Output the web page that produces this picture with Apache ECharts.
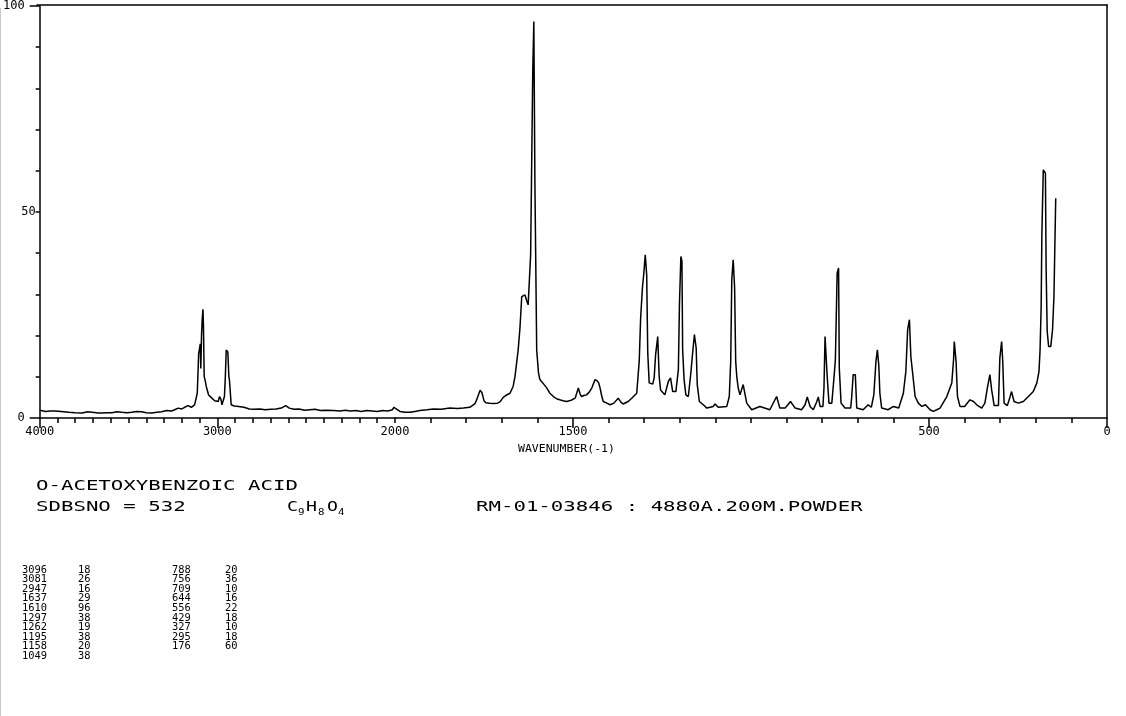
<!DOCTYPE html>
<html>
<head>
<meta charset="utf-8">
<title>O-ACETOXYBENZOIC ACID - Raman</title>
<script src="https://cdn.jsdelivr.net/npm/echarts@6/dist/echarts.min.js"></script>
<style>
html, body { margin: 0; padding: 0; background: #fff; }
#chart { width: 1126px; height: 716px; }
</style>
</head>
<body>
<div id="chart"></div>
<script>
// spectrum (wavenumber, relative intensity)
const wavenumber = [
  4000, 3966, 3940, 3911, 3880, 3836, 3800, 3761, 3730, 3705, 3670, 3649, 3620, 3593, 3565, 3538,
  3510, 3482, 3455, 3426, 3400, 3370, 3340, 3314, 3285, 3258, 3240, 3220, 3200, 3184, 3165, 3146,
  3128, 3113, 3105, 3098, 3096, 3093, 3089, 3085, 3081, 3078, 3074, 3068, 3062, 3049, 3035, 3025,
  3015, 3006, 2995, 2988, 2980, 2974, 2966, 2960, 2955, 2950, 2947, 2941, 2935, 2932, 2922, 2905,
  2880, 2850, 2820, 2792, 2760, 2730, 2700, 2670, 2640, 2615, 2595, 2568, 2540, 2510, 2480, 2450,
  2420, 2390, 2345, 2310, 2280, 2250, 2220, 2190, 2160, 2130, 2100, 2070, 2040, 2015, 2005, 2000,
  1986, 1972, 1958, 1944, 1930, 1910, 1892, 1870, 1846, 1825, 1808, 1790, 1785, 1775, 1768, 1761,
  1756, 1750, 1745, 1735, 1724, 1712, 1705, 1696, 1688, 1677, 1668, 1663, 1654, 1649, 1644, 1640,
  1635, 1630, 1626, 1621, 1619, 1613, 1610, 1607, 1602, 1597, 1593, 1585, 1574, 1565, 1555, 1545,
  1537, 1528, 1518, 1505, 1494, 1485, 1480, 1476, 1468, 1462, 1455, 1447, 1438, 1432, 1428, 1424,
  1419, 1415, 1405, 1396, 1385, 1373, 1365, 1359, 1345, 1335, 1321, 1314, 1310, 1305, 1301, 1297,
  1293, 1290, 1286, 1276, 1272, 1268, 1262, 1258, 1254, 1242, 1232, 1226, 1220, 1211, 1204, 1201,
  1197, 1194, 1192, 1188, 1183, 1176, 1169, 1164, 1159, 1154, 1151, 1145, 1134, 1124, 1106, 1101,
  1092, 1068, 1061, 1057, 1054, 1050, 1046, 1043, 1040, 1036, 1031, 1022, 1017, 1012, 998, 975,
  947, 928, 919, 904, 889, 876, 858, 848, 842, 834, 825, 815, 811, 806, 798, 795,
  792, 789, 786, 781, 773, 767, 763, 758, 754, 752, 747, 736, 720, 717, 713, 707,
  703, 685, 671, 662, 655, 649, 645, 641, 638, 633, 615, 600, 585, 572, 565, 560,
  555, 551, 546, 539, 530, 520, 510, 497, 488, 478, 469, 464, 450, 436, 431, 429,
  424, 420, 413, 400, 385, 375, 366, 352, 343, 336, 329, 324, 317, 305, 301, 296,
  293, 289, 280, 272, 268, 261, 249, 235, 221, 207, 197, 191, 188, 185, 183, 179,
  173, 171, 168, 164, 158, 153, 149, 146, 144
];
const intensity = [
  1.9, 1.6, 1.7, 1.7, 1.6, 1.4, 1.3, 1.2, 1.5, 1.4, 1.2, 1.2, 1.3, 1.3, 1.5, 1.4,
  1.3, 1.4, 1.6, 1.5, 1.3, 1.2, 1.4, 1.5, 1.8, 1.7, 2.0, 2.4, 2.2, 2.6, 3.0, 2.6,
  3.2, 6.0, 15.6, 15.7, 18.0, 12.0, 20.0, 24.0, 26.4, 22.0, 10.1, 9.0, 7.6, 5.6, 5.0, 4.8,
  4.2, 4.4, 4.0, 5.2, 4.6, 3.2, 3.6, 5.2, 10.0, 16.5, 16.9, 16.0, 10.0, 9.3, 3.2, 2.9,
  2.8, 2.6, 2.2, 2.1, 2.2, 2.0, 2.1, 2.2, 2.4, 3.0, 2.4, 2.1, 2.2, 1.9, 2.0, 2.1,
  1.8, 1.9, 1.8, 1.7, 1.9, 1.7, 1.8, 1.6, 1.8, 1.7, 1.6, 1.8, 1.7, 2.0, 2.6, 2.4,
  1.6, 1.4, 1.4, 1.6, 1.8, 2.0, 2.2, 2.1, 2.4, 2.3, 2.4, 2.6, 2.8, 3.5, 5.0, 6.7,
  6.2, 4.2, 3.7, 3.6, 3.5, 3.6, 3.9, 5.0, 5.5, 6.0, 7.7, 10.0, 16.5, 21.8, 29.4, 29.8,
  29.8, 28.4, 27.4, 27.2, 39.5, 84.3, 96.0, 56.9, 16.5, 11.0, 9.3, 8.5, 7.3, 6.0, 5.2, 4.6,
  4.4, 4.2, 4.0, 4.3, 4.8, 7.3, 5.8, 5.2, 5.5, 5.6, 6.2, 7.3, 9.3, 9.0, 8.5, 7.3,
  5.2, 4.0, 3.6, 3.2, 3.6, 4.8, 3.8, 3.4, 4.0, 4.8, 6.0, 13.7, 24.2, 31.5, 35.1, 39.5,
  34.6, 15.7, 8.5, 8.2, 9.7, 15.3, 19.7, 10.1, 6.8, 5.6, 8.9, 9.7, 6.4, 6.4, 11.7, 27.4,
  39.1, 38.0, 16.5, 9.3, 5.6, 5.2, 10.9, 15.7, 20.2, 16.9, 8.1, 4.0, 3.2, 2.4, 2.8, 3.4,
  2.6, 2.8, 5.2, 13.7, 33.5, 38.3, 31.5, 13.7, 10.1, 7.3, 5.6, 8.1, 8.5, 3.6, 2.0, 2.8,
  2.0, 5.2, 2.4, 2.4, 4.0, 2.4, 2.0, 3.2, 5.1, 2.8, 2.0, 4.0, 5.1, 2.8, 2.8, 7.3,
  19.7, 20.1, 10.1, 3.6, 3.6, 9.7, 14.1, 35.1, 36.3, 12.1, 3.6, 2.4, 2.4, 5.2, 10.5, 10.5,
  2.4, 2.0, 3.2, 2.6, 5.6, 13.7, 16.5, 12.7, 6.0, 2.4, 2.0, 2.8, 2.4, 6.0, 11.3, 21.4,
  23.8, 14.9, 10.9, 5.2, 3.6, 2.8, 3.2, 2.0, 1.6, 2.0, 2.4, 2.8, 5.2, 8.5, 14.1, 18.5,
  13.7, 5.2, 2.8, 2.8, 4.4, 4.0, 3.2, 2.4, 3.6, 7.3, 10.5, 6.8, 3.0, 3.0, 14.5, 18.5,
  14.0, 3.6, 3.0, 5.2, 6.4, 4.0, 3.6, 4.0, 5.2, 6.4, 8.5, 11.3, 16.5, 26.6, 44.3, 60.1,
  59.3, 36.3, 21.0, 17.3, 17.3, 21.4, 29.4, 43.9, 53.2
];

// axis labels
const highTickLabels = [4000, 3000];
const lowTickLabels = [2000, 1500, 500, 0];
const yEndLabels = [0, 100];
const yMidLabels = [50];

// peak list printed under the chart
const peakWn1 = ['3096', '3081', '2947', '1637', '1610', '1297', '1262', '1195', '1158', '1049'];
const peakInt1 = ['18', '26', '16', '29', '96', '38', '19', '38', '20', '38'];
const peakWn2 = ['788', '756', '709', '644', '556', '429', '327', '295', '176'];
const peakInt2 = ['20', '36', '10', '16', '22', '18', '10', '18', '60'];

const FONT = '"DejaVu Sans Mono", "Liberation Mono", monospace';
const AXIS = { color: '#000', width: 1.5 };

// the 4000-2000 part is plotted at half the scale of the 2000-0 part
const highData = [];
const lowData = [];
wavenumber.forEach((w, i) => {
  if (w >= 2000) highData.push([w, intensity[i]]);
  if (w <= 2000) lowData.push([w, intensity[i]]);
});

// minor tick positions, every 100 cm-1 / every 10 %
const highMinor = [];
for (let w = 2000; w <= 4000; w += 100) highMinor.push(w);
const lowMinor = [];
for (let w = 0; w <= 2000; w += 100) lowMinor.push(w);
const yMinor = [];
for (let v = 0; v <= 100; v += 10) yMinor.push(v);

const chart = echarts.init(document.getElementById('chart'));

// monospace text, stretched sideways like the plotter lettering
const txt = (text, x, y, size, sx) => ({
  type: 'text',
  x: x,
  y: y,
  scaleX: sx,
  style: {
    text: text,
    font: size + 'px ' + FONT,
    fill: '#000',
    textAlign: 'left',
    textVerticalAlign: 'middle'
  }
});

const graphics = [
  { type: 'line', shape: { x1: 0.5, y1: 8, x2: 0.5, y2: 716 }, style: { stroke: '#c8c8c8', lineWidth: 1 } },
  txt('WAVENUMBER(-1)', 518, 449, 10, 1.15),
  txt('O-ACETOXYBENZOIC ACID', 36, 486, 14, 1.48),
  txt('SDBSNO = 532', 36, 507, 14, 1.48),
  txt('C', 287, 507, 14, 1.3),
  txt('9', 298, 513, 9, 1.2),
  txt('H', 306, 507, 14, 1.3),
  txt('8', 318, 513, 9, 1.2),
  txt('O', 327, 507, 14, 1.3),
  txt('4', 338, 513, 9, 1.2),
  txt('RM-01-03846 : 4880A.200M.POWDER', 476, 507, 14, 1.48)
];

// peak table, two column pairs
const rowTop = 570;
const rowStep = 9.6;
peakWn1.forEach((w, i) => {
  graphics.push(txt(w, 22, rowTop + i * rowStep, 10, 1.04));
  graphics.push(txt(peakInt1[i], 78, rowTop + i * rowStep, 10, 1.04));
});
peakWn2.forEach((w, i) => {
  graphics.push(txt(w, 172, rowTop + i * rowStep, 10, 1.04));
  graphics.push(txt(peakInt2[i], 225, rowTop + i * rowStep, 10, 1.04));
});

const tickLabelStyle = { fontFamily: FONT, fontSize: 12, color: '#000', formatter: v => String(v) };
const hidden = {
  axisLine: { show: false, onZero: false }, axisTick: { show: false }, axisLabel: { show: false }, splitLine: { show: false }
};

const option = {
  animation: false,
  backgroundColor: '#fff',
  grid: [
    { left: 37, top: 5, width: 358, height: 413 },
    { left: 395, top: 5, width: 712, height: 413 },
    // whole plot box, only for the top and right frame lines
    { left: 37, top: 5, width: 1070, height: 413 }
  ],
  xAxis: [
    // 4000-2000: axis line + minor ticks
    Object.assign({}, hidden, {
      type: 'value', gridIndex: 0, position: 'bottom', min: 2000, max: 4000, inverse: true,
      axisLine: { show: true, onZero: false, lineStyle: AXIS },
      axisTick: { show: true, customValues: highMinor, length: 5, lineStyle: AXIS }
    }),
    // 4000-2000: long ticks + labels
    Object.assign({}, hidden, {
      type: 'value', gridIndex: 0, position: 'bottom', min: 2000, max: 4000, inverse: true,
      axisTick: { show: true, customValues: [4000, 3000], length: 10, lineStyle: AXIS },
      axisLabel: Object.assign({ show: true, customValues: highTickLabels, margin: 8 }, tickLabelStyle)
    }),
    // 2000-0
    Object.assign({}, hidden, {
      type: 'value', gridIndex: 1, position: 'bottom', min: 0, max: 2000, inverse: true,
      axisLine: { show: true, onZero: false, lineStyle: AXIS },
      axisTick: { show: true, customValues: lowMinor, length: 5, lineStyle: AXIS }
    }),
    Object.assign({}, hidden, {
      type: 'value', gridIndex: 1, position: 'bottom', min: 0, max: 2000, inverse: true,
      axisTick: { show: true, customValues: [1500, 500, 0], length: 10, lineStyle: AXIS },
      axisLabel: Object.assign({ show: true, customValues: lowTickLabels, margin: 8 }, tickLabelStyle)
    }),
    // top frame
    Object.assign({}, hidden, {
      type: 'value', gridIndex: 2, position: 'top', min: 0, max: 1,
      axisLine: { show: true, onZero: false, lineStyle: AXIS }
    })
  ],
  yAxis: [
    // axis line + minor ticks
    Object.assign({}, hidden, {
      type: 'value', gridIndex: 0, position: 'left', min: 0, max: 100,
      axisLine: { show: true, onZero: false, lineStyle: AXIS },
      axisTick: { show: true, customValues: yMinor, length: 4, lineStyle: AXIS }
    }),
    // 0 and 100 with long ticks
    Object.assign({}, hidden, {
      type: 'value', gridIndex: 0, position: 'left', min: 0, max: 100,
      axisTick: { show: true, customValues: yEndLabels, length: 10, lineStyle: AXIS },
      axisLabel: Object.assign({ show: true, margin: 15, customValues: yEndLabels }, tickLabelStyle)
    }),
    // 50 sits right against the axis
    Object.assign({}, hidden, {
      type: 'value', gridIndex: 0, position: 'left', min: 0, max: 100,
      axisLabel: Object.assign({ show: true, margin: 4, customValues: yMidLabels }, tickLabelStyle)
    }),
    Object.assign({}, hidden, { type: 'value', gridIndex: 1, min: 0, max: 100 }),
    // right frame
    Object.assign({}, hidden, {
      type: 'value', gridIndex: 2, position: 'right', min: 0, max: 1,
      axisLine: { show: true, onZero: false, lineStyle: AXIS }
    })
  ],
  series: [
    {
      type: 'line', xAxisIndex: 0, yAxisIndex: 0, data: highData,
      showSymbol: false, symbol: 'none',
      lineStyle: { color: '#000', width: 1.5 }
    },
    {
      type: 'line', xAxisIndex: 2, yAxisIndex: 3, data: lowData,
      showSymbol: false, symbol: 'none',
      lineStyle: { color: '#000', width: 1.5 }
    }
  ],
  graphic: graphics
};

chart.setOption(option);
</script>
</body>
</html>
